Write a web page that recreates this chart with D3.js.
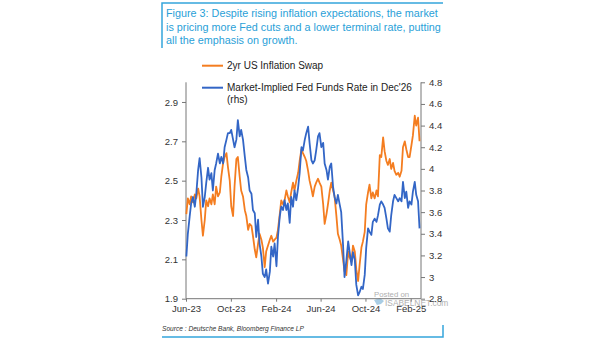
<!DOCTYPE html>
<html>
<head>
<meta charset="utf-8">
<script src="https://cdnjs.cloudflare.com/ajax/libs/d3/7.8.5/d3.min.js"></script>
<style>
    body { margin: 0; background: #fff; }
    svg { display: block; font-family: "Liberation Sans", Arial, sans-serif; }
    .axis text { fill: #333; font-size: 9.5px; }
    .axis path, .axis line { stroke: #777; }
</style>
</head>
<body>
<svg id="chart" width="605" height="341"></svg>
<script>
const titleLines = [
    'Figure 3: Despite rising inflation expectations, the market',
    'is pricing more Fed cuts and a lower terminal rate, putting',
    'all the emphasis on growth.'
];
const sourceText = 'Source : Deutsche Bank, Bloomberg Finance LP';
const seriesNames = ['2yr US Inflation Swap', "Market-Implied Fed Funds Rate in Dec'26", '(rhs)'];

const dates = [
    '2023-06-02', '2023-06-06', '2023-06-11', '2023-06-15', '2023-06-20', '2023-06-25', '2023-06-29',
    '2023-07-04', '2023-07-08', '2023-07-13', '2023-07-17', '2023-07-22', '2023-07-26', '2023-07-31',
    '2023-08-04', '2023-08-09', '2023-08-13', '2023-08-18', '2023-08-22', '2023-08-27',
    '2023-09-01', '2023-09-05', '2023-09-10', '2023-09-14', '2023-09-19', '2023-09-23', '2023-09-28',
    '2023-10-02', '2023-10-07', '2023-10-11', '2023-10-16', '2023-10-20', '2023-10-25', '2023-10-29',
    '2023-11-03', '2023-11-08', '2023-11-12', '2023-11-17', '2023-11-21', '2023-11-26', '2023-11-30',
    '2023-12-05', '2023-12-09', '2023-12-14', '2023-12-18', '2023-12-23', '2023-12-27',
    '2024-01-01', '2024-01-05', '2024-01-10', '2024-01-15', '2024-01-19', '2024-01-24', '2024-01-28',
    '2024-02-02', '2024-02-06', '2024-02-11', '2024-02-15', '2024-02-20', '2024-02-24', '2024-02-29',
    '2024-03-04', '2024-03-09', '2024-03-13', '2024-03-18', '2024-03-22', '2024-03-27',
    '2024-04-01', '2024-04-05', '2024-04-10', '2024-04-14', '2024-04-19', '2024-04-23', '2024-04-28',
    '2024-05-02', '2024-05-07', '2024-05-11', '2024-05-16', '2024-05-20', '2024-05-25', '2024-05-29',
    '2024-06-03', '2024-06-08', '2024-06-12', '2024-06-17', '2024-06-21', '2024-06-26', '2024-06-30',
    '2024-07-05', '2024-07-09', '2024-07-14', '2024-07-18', '2024-07-23', '2024-07-27',
    '2024-08-01', '2024-08-05', '2024-08-10', '2024-08-15', '2024-08-19', '2024-08-24', '2024-08-28',
    '2024-09-02', '2024-09-06', '2024-09-11', '2024-09-15', '2024-09-20', '2024-09-24', '2024-09-29',
    '2024-10-03', '2024-10-08', '2024-10-12', '2024-10-17', '2024-10-21', '2024-10-26', '2024-10-31',
    '2024-11-04', '2024-11-09', '2024-11-13', '2024-11-18', '2024-11-22', '2024-11-27',
    '2024-12-01', '2024-12-06', '2024-12-10', '2024-12-15', '2024-12-19', '2024-12-24', '2024-12-29',
    '2025-01-02', '2025-01-07', '2025-01-11', '2025-01-16', '2025-01-20', '2025-01-25', '2025-01-29',
    '2025-02-03', '2025-02-07', '2025-02-12', '2025-02-16', '2025-02-21', '2025-02-25'
];

// 2yr US inflation swap, % (left axis)
const swap = [
    2.33, 2.41, 2.38, 2.42, 2.39, 2.43, 2.41, 2.46, 2.42, 2.30, 2.22, 2.30, 2.40, 2.37,
    2.41, 2.38, 2.43, 2.38, 2.47, 2.42, 2.44, 2.52, 2.59, 2.62, 2.64, 2.57, 2.50, 2.37,
    2.32, 2.47, 2.61, 2.62, 2.52, 2.45, 2.42, 2.35, 2.32, 2.25, 2.28, 2.27, 2.22, 2.15,
    2.11, 2.18, 2.23, 2.20, 2.16, 2.06, 2.14, 2.17, 2.20, 2.22, 2.19, 2.20, 2.21, 2.25,
    2.33, 2.40, 2.38, 2.40, 2.45, 2.42, 2.39, 2.44, 2.49, 2.45, 2.50, 2.54, 2.60, 2.66,
    2.64, 2.62, 2.60, 2.55, 2.50, 2.46, 2.42, 2.47, 2.49, 2.51, 2.49, 2.47, 2.38, 2.28,
    2.33, 2.38, 2.45, 2.49, 2.45, 2.42, 2.32, 2.23, 2.20, 2.17, 2.10, 2.04, 2.02, 2.14,
    2.11, 2.09, 2.17, 2.14, 2.05, 1.99, 2.07, 2.16, 2.19, 2.24, 2.38, 2.44, 2.48, 2.41,
    2.44, 2.41, 2.45, 2.42, 2.63, 2.62, 2.72, 2.65, 2.60, 2.58, 2.61, 2.56, 2.59, 2.55,
    2.53, 2.54, 2.52, 2.55, 2.67, 2.70, 2.66, 2.62, 2.62, 2.68, 2.73, 2.83, 2.78, 2.82,
    2.70
];

// market-implied fed funds rate for Dec'26, % (right axis)
const fedFunds = [
    3.19, 3.40, 3.56, 3.68, 3.74, 3.65, 3.77, 3.99, 4.10, 3.92, 3.65, 3.74, 3.87, 4.01,
    3.90, 3.96, 3.80, 3.99, 4.05, 4.14, 4.05, 4.11, 4.05, 4.20, 4.27, 4.33, 4.33, 4.36,
    4.27, 4.20, 4.27, 4.45, 4.30, 4.36, 4.27, 4.11, 3.99, 3.92, 3.80, 3.77, 3.62, 3.59,
    3.37, 3.53, 3.31, 3.19, 3.03, 3.00, 3.07, 2.94, 3.05, 3.28, 3.19, 3.31, 3.10, 3.37,
    3.56, 3.65, 3.62, 3.71, 3.62, 3.68, 3.50, 3.74, 3.65, 3.80, 3.71, 3.83, 3.96, 4.20,
    4.17, 4.27, 4.33, 4.39, 4.24, 4.08, 4.05, 4.08, 4.17, 4.30, 4.33, 4.20, 4.24, 4.05,
    3.99, 3.90, 4.02, 4.05, 3.83, 3.74, 3.68, 3.76, 3.67, 3.60, 3.30, 3.00, 3.15, 3.33,
    3.23, 3.11, 3.23, 3.16, 2.93, 2.83, 2.86, 2.91, 2.89, 3.02, 3.27, 3.45, 3.42, 3.39,
    3.51, 3.54, 3.51, 3.57, 3.67, 3.70, 3.67, 3.64, 3.54, 3.45, 3.42, 3.57, 3.70, 3.76,
    3.73, 3.70, 3.73, 3.70, 3.88, 3.73, 3.79, 3.64, 3.70, 3.67, 3.79, 3.88, 3.76, 3.70,
    3.45
];

const leftTicks = [1.9, 2.1, 2.3, 2.5, 2.7, 2.9];
const rightTicks = [2.8, 3.0, 3.2, 3.4, 3.6, 3.8, 4.0, 4.2, 4.4, 4.6, 4.8];
const monthTicks = ['2023-06-01', '2023-10-01', '2024-02-01', '2024-06-01', '2024-10-01', '2025-02-01'];

const ORANGE = '#f47d20';
const BLUE = '#3366c6';
const FRAME = '#35a5dc';

const parse = d3.timeParse('%Y-%m-%d');
const plot = { left: 186, right: 421, top: 82.3, bottom: 298.7 };

const svg = d3.select('#chart');

// frame around the title and the source note
svg.append('path')
    .attr('d', 'M162,48 V3 H443')
    .attr('fill', 'none')
    .attr('stroke', FRAME)
    .attr('stroke-width', 1.5);
svg.append('path')
    .attr('d', 'M162,337 H443 V325')
    .attr('fill', 'none')
    .attr('stroke', FRAME)
    .attr('stroke-width', 1.5);

svg.append('g')
    .selectAll('text')
    .data(titleLines)
    .join('text')
    .attr('x', 166)
    .attr('y', (d, i) => 17 + i * 13.6)
    .attr('fill', '#2a9fd8')
    .style('font-size', '10.8px')
    .text(d => d);

svg.append('text')
    .attr('x', 162)
    .attr('y', 331)
    .attr('fill', '#333')
    .style('font-size', '6.6px')
    .style('font-style', 'italic')
    .text(sourceText);

const x = d3.scaleTime()
    .domain([parse('2023-06-01'), parse('2025-03-01')])
    .range([plot.left, plot.right]);
const yLeft = d3.scaleLinear().domain([1.9, 3.0]).range([plot.bottom, plot.top]);
const yRight = d3.scaleLinear().domain([2.8, 4.8]).range([plot.bottom, plot.top]);

// watermark sits under the axes
const mark = svg.append('g').attr('fill', '#b0b0b0');
mark.append('text').attr('x', 374).attr('y', 296.5).style('font-size', '7.8px').text('Posted on');
mark.append('text').attr('x', 385).attr('y', 306).style('font-size', '8.4px').text('ISABELNET.com');
mark.append('path')
    .attr('d', 'M374,300 l6,-2 l4,3 l-3,3 l-4,1 z')
    .attr('fill', '#a9cde4');

svg.append('g')
    .attr('class', 'axis')
    .attr('transform', `translate(${plot.left},0)`)
    .call(d3.axisLeft(yLeft).tickValues(leftTicks).tickSize(4).tickPadding(4).tickFormat(d3.format('.1f')))
    .call(g => g.select('.domain').attr('d', `M0,${plot.top}V${plot.bottom}`));

svg.append('g')
    .attr('class', 'axis')
    .attr('transform', `translate(${plot.right},0)`)
    .call(d3.axisRight(yRight).tickValues(rightTicks).tickSize(4).tickPadding(4).tickFormat(d3.format('~g')))
    .call(g => g.select('.domain').attr('d', `M0,${plot.top}V${plot.bottom}`));

svg.append('g')
    .attr('class', 'axis')
    .attr('transform', `translate(0,${plot.bottom})`)
    .call(d3.axisBottom(x).tickValues(monthTicks.map(parse)).tickSize(3).tickPadding(4).tickFormat(d3.timeFormat('%b-%y')))
    .call(g => g.select('.domain').attr('d', `M${plot.left},0H${plot.right}`));

const swapLine = d3.line()
    .x((d, i) => x(parse(dates[i])))
    .y(d => yLeft(d));
const ffLine = d3.line()
    .x((d, i) => x(parse(dates[i])))
    .y(d => yRight(d));

svg.append('path')
    .datum(swap)
    .attr('d', swapLine)
    .attr('fill', 'none')
    .attr('stroke', ORANGE)
    .attr('stroke-width', 1.8)
    .attr('stroke-linejoin', 'round');

svg.append('path')
    .datum(fedFunds)
    .attr('d', ffLine)
    .attr('fill', 'none')
    .attr('stroke', BLUE)
    .attr('stroke-width', 1.8)
    .attr('stroke-linejoin', 'round');

// legend
const legend = svg.append('g').style('font-size', '10px').attr('fill', '#222');
[[ORANGE, 65.7], [BLUE, 87.7]].forEach(([color, ly]) => {
    legend.append('line')
        .attr('x1', 202).attr('x2', 223)
        .attr('y1', ly).attr('y2', ly)
        .attr('stroke', color)
        .attr('stroke-width', 2);
});
legend.selectAll('text')
    .data(seriesNames)
    .join('text')
    .attr('x', 227)
    .attr('y', (d, i) => [69.3, 91.3, 103.3][i])
    .text(d => d);
</script>
</body>
</html>
